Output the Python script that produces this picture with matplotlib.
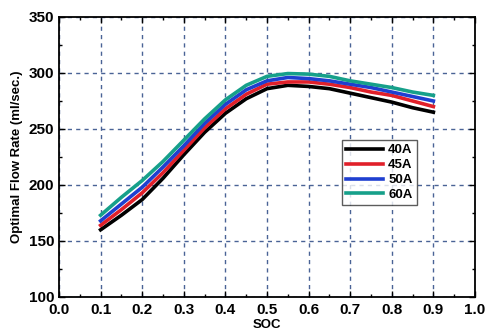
import matplotlib
matplotlib.use("Agg")
import matplotlib.pyplot as plt
from matplotlib.ticker import MultipleLocator

# ── data ───────────────────────────────────────────────────
soc = [0.10, 0.15, 0.20, 0.25, 0.30, 0.35, 0.40, 0.45, 0.50, 0.55, 0.60, 0.65, 0.70, 0.75, 0.80, 0.85, 0.90]
flow_40a = [160, 173, 187, 206, 227, 247, 264, 277, 286, 289, 288, 286, 282, 278, 274, 269, 265]
flow_45a = [164, 178, 193, 211, 231, 251, 268, 281, 290, 292, 292, 290, 287, 283, 280, 275, 270]
flow_50a = [168, 183, 198, 216, 235, 255, 272, 285, 293, 296, 295, 293, 290, 287, 283, 279, 275]
flow_60a = [173, 189, 204, 221, 240, 259, 276, 289, 297, 299.5, 299, 297, 293, 290, 287, 283, 280]

labels = ["40A", "45A", "50A", "60A"]
series = [flow_40a, flow_45a, flow_50a, flow_60a]
colors = ["#000000", "#e0202a", "#1f3fd0", "#16a08a"]

plt.rcParams["font.family"] = ["Liberation Sans", "DejaVu Sans"]
plt.rcParams["font.weight"] = "bold"

fig = plt.figure(figsize=(4.86, 3.35), dpi=100)
ax = fig.add_axes([59 / 486, 38 / 335, 416 / 486, 280 / 335])

for y, lab, c in zip(series, labels, colors):
    ax.plot(soc, y, color=c, lw=2.6, label=lab, solid_joinstyle="round")

ax.set_xlim(0.0, 1.0)
ax.set_ylim(100, 350)
ax.xaxis.set_major_locator(MultipleLocator(0.1))
ax.xaxis.set_minor_locator(MultipleLocator(0.05))
ax.yaxis.set_major_locator(MultipleLocator(50))
ax.yaxis.set_minor_locator(MultipleLocator(25))
ax.set_xticklabels([f"{v:.1f}" for v in ax.get_xticks()])

ax.grid(True, which="major", color="#4a6396", linestyle=(0, (3, 3)), lw=1.0)
ax.tick_params(which="both", direction="in", top=True, right=True, labelsize=11)
ax.tick_params(which="major", length=4, width=1)
ax.tick_params(which="minor", length=2, width=1)
ax.tick_params(axis="x", pad=4)
for lbl in ax.get_xticklabels() + ax.get_yticklabels():
    lbl.set_fontweight("bold")
for sp in ax.spines.values():
    sp.set_linewidth(1.3)

ax.set_xlabel("SOC", fontsize=9.5, fontweight="bold", labelpad=2)
ax.set_ylabel("Optimal Flow Rate (ml/sec.)", fontsize=9.5, fontweight="bold", labelpad=4)

leg = ax.legend(loc="upper left", bbox_to_anchor=(0.68, 0.56), fontsize=9.5,
                frameon=True, fancybox=False, edgecolor="#333333",
                handlelength=2.8, handletextpad=0.4, borderpad=0.3,
                labelspacing=0.2, borderaxespad=0)
leg.get_frame().set_linewidth(1.0)
for t in leg.get_texts():
    t.set_fontweight("bold")

fig.savefig("out.png", dpi=100)
